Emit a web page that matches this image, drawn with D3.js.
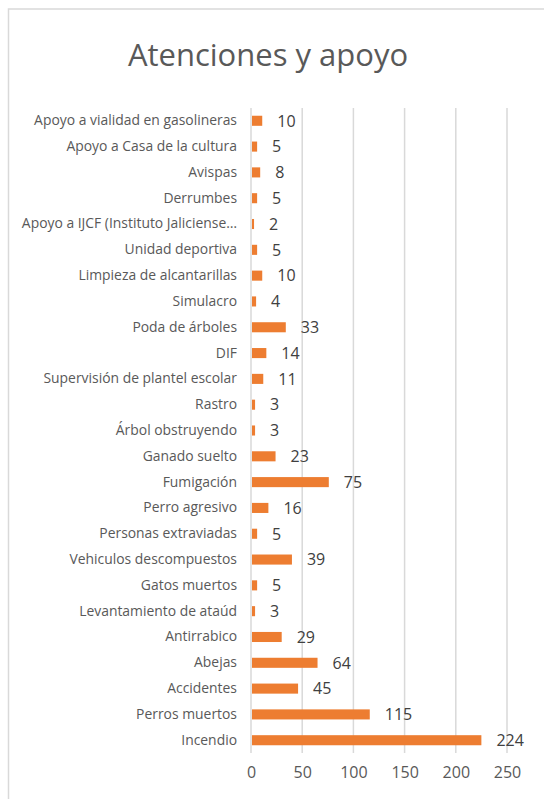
<!DOCTYPE html>
<html>
<head>
<meta charset="utf-8">
<script src="https://cdn.jsdelivr.net/npm/d3@7"></script>
<style>
  html, body { margin: 0; padding: 0; background: #fff; }
  svg { display: block; font-family: "Open Sans", "Noto Sans", sans-serif; }
</style>
</head>
<body>
<div id="chart"></div>
<script>
// categories from top to bottom, as they appear in the chart
const categories = [
  'Apoyo a vialidad en gasolineras',
  'Apoyo a Casa de la cultura',
  'Avispas',
  'Derrumbes',
  'Apoyo a IJCF (Instituto Jaliciense…',
  'Unidad deportiva',
  'Limpieza de alcantarillas',
  'Simulacro',
  'Poda de árboles',
  'DIF',
  'Supervisión de plantel escolar',
  'Rastro',
  'Árbol obstruyendo',
  'Ganado suelto',
  'Fumigación',
  'Perro agresivo',
  'Personas extraviadas',
  'Vehiculos descompuestos',
  'Gatos muertos',
  'Levantamiento de ataúd',
  'Antirrabico',
  'Abejas',
  'Accidentes',
  'Perros muertos',
  'Incendio'
];
const values = [10, 5, 8, 5, 2, 5, 10, 4, 33, 14, 11, 3, 3, 23, 75, 16, 5, 39, 5, 3, 29, 64, 45, 115, 224];
const ticks = [0, 50, 100, 150, 200, 250];

const width = 544, height = 799;
const margin = { top: 108, left: 251, right: 37, bottom: 46 };

const svg = d3.select('#chart').append('svg')
  .attr('width', width)
  .attr('height', height);

// chart area frame (only left and top edges are visible)
svg.append('rect')
  .attr('x', 8.5)
  .attr('y', 9)
  .attr('width', 560)
  .attr('height', 820)
  .attr('fill', '#fff')
  .attr('stroke', '#d9d9d9')
  .attr('stroke-width', 1.5);

svg.append('text')
  .attr('x', 268)
  .attr('y', 66)
  .attr('text-anchor', 'middle')
  .attr('fill', '#595959')
  .style('font-size', '31px')
  .text('Atenciones y apoyo');

const x = d3.scaleLinear()
  .domain([0, 250])
  .range([margin.left, width - margin.right]);

const y = d3.scaleBand()
  .domain(categories)
  .range([margin.top, height - margin.bottom])
  .paddingInner(0.61)
  .paddingOuter(0.3);

// vertical gridlines
svg.append('g')
  .selectAll('line')
  .data(ticks)
  .join('line')
    .attr('x1', d => x(d))
    .attr('x2', d => x(d))
    .attr('y1', margin.top)
    .attr('y2', height - margin.bottom)
    .attr('stroke', '#d9d9d9')
    .attr('stroke-width', 1.5);

// bottom axis labels
const xAxis = svg.append('g')
  .attr('transform', `translate(0,${height - margin.bottom})`)
  .call(d3.axisBottom(x).tickValues(ticks).tickSize(0).tickPadding(14));
xAxis.select('.domain').remove();
xAxis.selectAll('text')
  .attr('fill', '#595959')
  .style('font-size', '16px')
  .style('font-family', '"Open Sans", sans-serif');

// category labels
const yAxis = svg.append('g')
  .attr('transform', `translate(${margin.left},0)`)
  .call(d3.axisLeft(y).tickSize(0).tickPadding(14));
yAxis.select('.domain').remove();
yAxis.selectAll('text')
  .attr('fill', '#595959')
  .style('font-size', '13.9px')
  .style('font-family', '"Open Sans", sans-serif');

const rows = categories.map((c, i) => ({ cat: c, val: values[i] }));

svg.append('g')
  .selectAll('rect')
  .data(rows)
  .join('rect')
    .attr('x', x(0) + 1)
    .attr('y', d => y(d.cat))
    .attr('width', d => x(d.val) - x(0))
    .attr('height', y.bandwidth())
    .attr('fill', '#ed7d31');

svg.append('g')
  .selectAll('text')
  .data(rows)
  .join('text')
    .attr('x', d => x(d.val) + 16)
    .attr('y', d => y(d.cat) + y.bandwidth() / 2)
    .attr('dy', '0.36em')
    .attr('fill', '#404040')
    .style('font-size', '16px')
    .text(d => d.val);
</script>
</body>
</html>
